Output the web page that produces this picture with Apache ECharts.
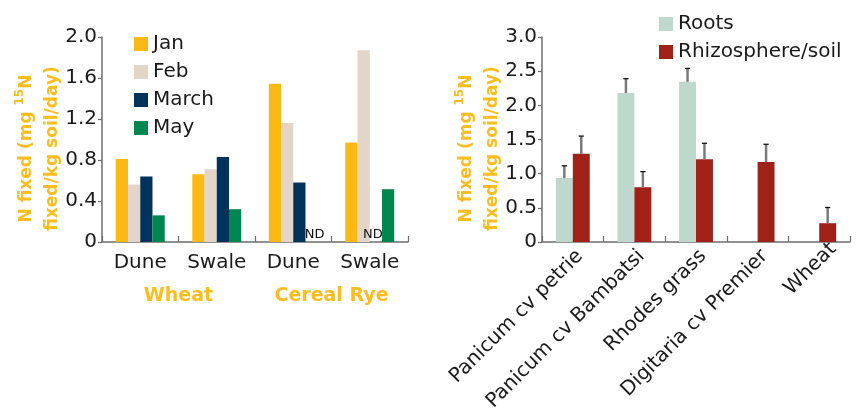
<!DOCTYPE html>
<html>
<head>
<meta charset="utf-8">
<script src="https://cdn.jsdelivr.net/npm/echarts@6/dist/echarts.min.js"></script>
<style>
  html, body { margin: 0; padding: 0; background: #fff; }
  #chart { width: 862px; height: 416px; }
</style>
</head>
<body>
<div id="chart"></div>
<script>
// Left panel: N fixation by month under two crops and two landscape positions
const siteLabels = ['Dune', 'Swale', 'Dune', 'Swale'];
const cropLabels = ['Wheat', 'Cereal Rye'];
const monthNames = ['Jan', 'Feb', 'March', 'May'];
const janValues = [0.81, 0.66, 1.545, 0.97];
const febValues = [0.56, 0.71, 1.16, 1.87];
const marchValues = [0.64, 0.83, 0.58, null];   // null = not determined
const mayValues = [0.26, 0.32, null, 0.515];     // null = not determined

// Right panel: N fixation in roots vs rhizosphere soil, with standard errors
const plantLabels = ['Panicum cv petrie', 'Panicum cv Bambatsi', 'Rhodes grass', 'Digitaria cv Premier', 'Wheat'];
const rootValues = [0.935, 2.18, 2.345, null, null];
const rootErrors = [0.18, 0.21, 0.195, null, null];
const rhizoValues = [1.29, 0.80, 1.21, 1.17, 0.275];
const rhizoErrors = [0.26, 0.23, 0.235, 0.26, 0.23];

const leftTicks = { min: 0, max: 2.0, interval: 0.4 };
const rightTicks = { min: 0, max: 3.0, interval: 0.5 };

const FONT = 'DejaVu Sans';
const ORANGE = '#FDBD1E';
const AXIS_GREY = '#6e6e6e';

const colors = {
  Jan: '#FDB913', Feb: '#E3D5C7', March: '#00335B', May: '#00874F',
  Roots: '#BFD8CE', 'Rhizosphere/soil': '#A02117'
};

// Missing values become zero-height bars tagged "ND"
function withND(values, offsetX) {
  return values.map(v => v === null ? {
    value: 0,
    label: {
      show: true, formatter: 'ND', position: 'top', distance: 1,
      offset: [offsetX, 0], fontFamily: FONT, fontSize: 13, color: '#111'
    }
  } : v);
}

const tickFmt = v => v === 0 ? '0' : v.toFixed(1);

const yName = '{t|N fixed (mg }{s|15}{t|N}\n{t|fixed/kg soil/day)}';
const yNameStyle = {
  padding: [0, 18, 0, 0],
  rich: {
    t: { fontFamily: FONT, fontWeight: 'bold', fontSize: 17, color: ORANGE, lineHeight: 26 },
    s: { fontFamily: FONT, fontWeight: 'bold', fontSize: 12, color: ORANGE, verticalAlign: 'top', lineHeight: 26 }
  }
};

function valueAxis(gridIndex, ticks) {
  return {
    type: 'value', gridIndex, min: ticks.min, max: ticks.max, interval: ticks.interval,
    name: yName, nameLocation: 'middle', nameRotate: 90, nameGap: 35,
    nameTextStyle: yNameStyle,
    axisLine: { show: true, lineStyle: { color: AXIS_GREY, width: 1.5 } },
    axisTick: { show: true, length: 4, lineStyle: { color: AXIS_GREY, width: 1.2 } },
    splitLine: { show: false },
    axisLabel: { formatter: tickFmt, fontFamily: FONT, fontSize: 20, color: '#1a1a1a', margin: 5 }
  };
}

function barSeries(name, data, xIdx, yIdx, gap) {
  return {
    name, type: 'bar', data, xAxisIndex: xIdx, yAxisIndex: yIdx,
    barGap: '0%', barCategoryGap: gap,
    itemStyle: { color: colors[name] },
    emphasis: { disabled: true }
  };
}

// Error whiskers: drawn upward from the bar top, with a short cap
function errorSeries(values, errors, side) {
  const data = values.map((v, i) => v === null ? null : [i, v, v + errors[i]]).filter(d => d);
  return {
    type: 'custom', xAxisIndex: 2, yAxisIndex: 1, z: 5,
    data,
    renderItem(params, api) {
      const catW = api.size([1, 0])[0];
      const barW = catW * 0.55 / 2;
      const base = api.coord([api.value(0), api.value(1)]);
      const top = api.coord([api.value(0), api.value(2)]);
      const x = base[0] + side * barW / 2;
      return {
        type: 'group',
        children: [
          { type: 'line', shape: { x1: x, y1: base[1], x2: x, y2: top[1] },
            style: { stroke: '#7a7a7a', lineWidth: 2.5 } },
          { type: 'line', shape: { x1: x - 2.6, y1: top[1], x2: x + 2.6, y2: top[1] },
            style: { stroke: '#111', lineWidth: 1.3 } }
        ]
      };
    }
  };
}

const legendCommon = {
  orient: 'vertical', itemWidth: 14, itemHeight: 14, itemGap: 8, icon: 'rect',
  textStyle: { fontFamily: FONT, fontSize: 20, color: '#1a1a1a' },
  selectedMode: false
};

const chart = echarts.init(document.getElementById('chart'), null, { renderer: 'canvas' });

chart.setOption({
  animation: false,
  backgroundColor: '#fff',
  grid: [
    { left: 102, top: 37, width: 306, height: 205 },
    { left: 542, top: 37, width: 308, height: 205 }
  ],
  legend: [
    Object.assign({ data: monthNames, left: 129, top: 29 }, legendCommon),
    Object.assign({ data: ['Roots', 'Rhizosphere/soil'], left: 654, top: 9 }, legendCommon)
  ],
  xAxis: [
    {
      type: 'category', gridIndex: 0, data: siteLabels,
      axisLine: { lineStyle: { color: AXIS_GREY, width: 1.5 } },
      axisTick: { show: true, inside: true, length: 6, lineStyle: { color: AXIS_GREY, width: 1.2 } },
      axisLabel: { interval: 0, fontFamily: FONT, fontSize: 20, color: '#1a1a1a', margin: 11 }
    },
    {
      type: 'category', gridIndex: 0, data: cropLabels, position: 'bottom', offset: 35,
      axisLine: { show: false }, axisTick: { show: false },
      axisLabel: { interval: 0, fontFamily: FONT, fontSize: 19, fontWeight: 'bold', color: ORANGE, margin: 10 }
    },
    {
      type: 'category', gridIndex: 1, data: plantLabels,
      axisLine: { lineStyle: { color: AXIS_GREY, width: 1.5 } },
      axisTick: { show: true, inside: true, length: 6, lineStyle: { color: AXIS_GREY, width: 1.2 } },
      axisLabel: {
        rotate: 45, align: 'right', verticalAlign: 'top', margin: 4, interval: 0,
        fontFamily: FONT, fontSize: 20, color: '#1a1a1a',
        formatter: v => v === 'Wheat' ? '{w|' + v + '}' : v,
        rich: { w: { fontFamily: FONT, fontSize: 20, color: '#1a1a1a', padding: [0, -10, 0, 0] } }
      }
    }
  ],
  yAxis: [valueAxis(0, leftTicks), valueAxis(1, rightTicks)],
  series: [
    barSeries('Jan', janValues, 0, 0, '36%'),
    barSeries('Feb', febValues, 0, 0, '36%'),
    barSeries('March', withND(marchValues, -3), 0, 0, '36%'),
    barSeries('May', withND(mayValues, 3), 0, 0, '36%'),
    barSeries('Roots', rootValues, 2, 1, '45%'),
    barSeries('Rhizosphere/soil', rhizoValues, 2, 1, '45%'),
    errorSeries(rootValues, rootErrors, -1),
    errorSeries(rhizoValues, rhizoErrors, 1)
  ]
});
</script>
</body>
</html>
